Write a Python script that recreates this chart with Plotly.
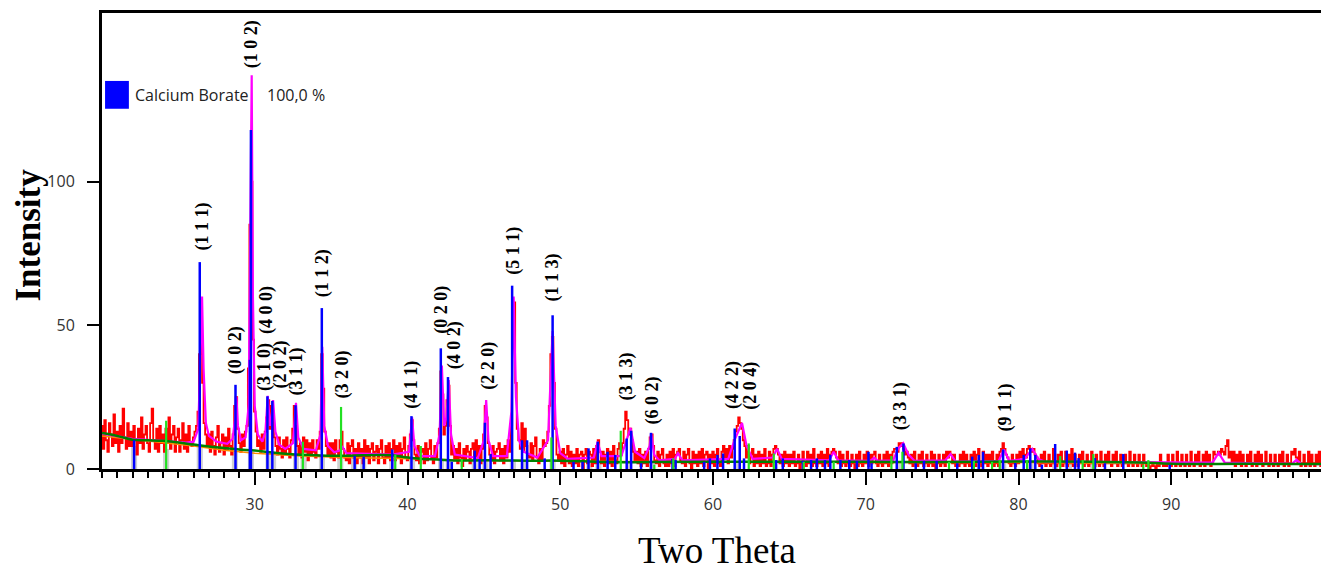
import plotly.graph_objects as go

# ---------------- data ----------------
# observed intensity, step 0.1 deg from 20.0
obs_y = [
    15, 7, 17, 10, 6, 16, 12, 8, 19, 9,
    13, 6, 15, 9, 21, 11, 7, 16, 8, 13,
    8, 15, 10, 5, 14, 9, 18, 7, 12, 15,
    9, 6, 16, 21, 10, 7, 14, 6, 15, 9,
    12, 6, 14, 9, 18, 7, 12, 15, 6, 11,
    14, 6, 10, 16, 7, 12, 6, 15, 9, 8,
    11, 13, 15, 20, 40, 58, 30, 16, 12, 8,
    12, 6, 13, 8, 5, 11, 15, 6, 9, 12,
    5, 11, 7, 14, 8, 5, 12, 22, 25, 14,
    9, 6, 12, 8, 13, 15, 35, 85, 100, 45,
    20, 13, 8, 10, 6, 12, 7, 13, 18, 24,
    14, 22, 20, 11, 8, 5, 11, 7, 4, 10,
    5, 11, 7, 4, 10, 14, 22, 15, 8, 5,
    9, 4, 11, 6, 10, 3, 9, 5, 10, 6,
    4, 10, 7, 13, 40, 28, 13, 8, 5, 9,
    4, 9, 3, 10, 6, 4, 10, 13, 7, 4,
    3, 9, 2, 8, 10, 4, 7, 2, 9, 4,
    7, 2, 10, 4, 8, 2, 7, 9, 3, 6,
    8, 2, 7, 10, 4, 2, 8, 4, 9, 3,
    7, 10, 3, 8, 4, 9, 2, 7, 11, 4,
    3, 8, 12, 17, 10, 5, 3, 8, 2, 6,
    7, 2, 9, 3, 7, 10, 4, 2, 8, 4,
    9, 14, 34, 26, 12, 15, 24, 29, 15, 5,
    8, 3, 7, 2, 9, 4, 1, 7, 3, 8,
    6, 2, 7, 9, 3, 10, 4, 8, 2, 7,
    12, 22, 18, 9, 5, 3, 8, 2, 6, 7,
    9, 3, 7, 2, 8, 4, 10, 6, 15, 50,
    58, 30, 14, 10, 7, 16, 6, 14, 8, 5,
    4, 9, 3, 8, 11, 4, 2, 7, 3, 10,
    8, 9, 13, 22, 40, 46, 30, 14, 5, 3,
    6, 2, 7, 1, 5, 8, 2, 6, 1, 5,
    2, 7, 1, 5, 6, 0, 5, 7, 2, 6,
    5, 1, 7, 2, 8, 10, 6, 2, 6, 1,
    5, 7, 2, 6, 1, 8, 3, 2, 7, 9,
    5, 9, 14, 20, 17, 12, 14, 10, 6, 3,
    6, 2, 7, 1, 5, 2, 6, 1, 7, 11,
    12, 8, 3, 2, 6, 1, 5, 7, 2, 1,
    5, 1, 6, 2, 7, 1, 5, 6, 7, 3,
    2, 6, 1, 5, 7, 2, 0, 6, 2, 5,
    1, 6, 2, 7, 1, 5, 6, 0, 5, 2,
    6, 1, 5, 7, 2, 1, 6, 8, 4, 7,
    2, 8, 4, 7, 10, 13, 15, 18, 16, 14,
    10, 8, 4, 8, 2, 5, 7, 1, 5, 2,
    6, 1, 5, 2, 7, 1, 2, 6, 1, 5,
    7, 8, 7, 5, 2, 5, 1, 6, 2, 5,
    1, 5, 2, 6, 1, 2, 5, 0, 2, 6,
    2, 1, 6, 2, 5, 1, 7, 2, 1, 5,
    2, 6, 1, 5, 2, 7, 1, 5, 6, 7,
    6, 4, 2, 6, 1, 5, 2, 1, 6, 2,
    1, 5, 2, 0, 5, 1, 6, 2, 1, 5,
    2, 6, 1, 5, 2, 5, 6, 2, 1, 5,
    2, 1, 5, 2, 6, 1, 5, 2, 6, 7,
    7, 6, 9, 8, 9, 7, 5, 6, 4, 2,
    5, 1, 6, 2, 1, 5, 2, 6, 1, 2,
    5, 1, 2, 6, 1, 5, 0, 2, 5, 1,
    2, 5, 1, 6, 4, 6, 5, 2, 5, 1,
    2, 1, 5, 2, 6, 1, 5, 2, 1, 5,
    2, 6, 1, 5, 7, 2, 1, 6, 2, 5,
    1, 5, 2, 6, 1, 2, 5, 1, 6, 7,
    9, 7, 5, 4, 2, 1, 5, 2, 1, 5,
    2, 6, 4, 7, 5, 4, 7, 8, 7, 6,
    7, 5, 4, 2, 1, 5, 2, 6, 1, 2,
    5, 1, 2, 7, 2, 1, 5, 2, 6, 1,
    2, 6, 1, 5, 2, 7, 1, 5, 2, 1,
    5, 2, 6, 1, 2, 5, 1, 2, 6, 2,
    1, 5, 2, 1, 6, 2, 1, 5, 2, 6,
    2, 1, 5, 2, 6, 1, 2, 5, 1, 2,
    5, 2, 1, 6, 2, 1, 5, 2, 1, 5,
    2, 1, 5, 2, 1, 2, 0, 1, 2, 1,
    0, 2, 1, 5, 2, 1, 2, 1, 5, 2,
    1, 5, 2, 1, 6, 2, 1, 5, 2, 1,
    5, 2, 1, 6, 2, 1, 5, 2, 6, 1,
    2, 5, 1, 6, 2, 5, 1, 2, 6, 5,
    5, 6, 5, 7, 6, 5, 8, 10, 4, 6,
    2, 6, 1, 5, 2, 6, 1, 5, 2, 1,
    5, 2, 6, 1, 2, 5, 1, 6, 2, 5,
    1, 2, 6, 2, 1, 5, 2, 1, 5, 2,
    1, 5, 2, 6, 1, 2, 5, 1, 2, 6,
    5, 7, 4, 2, 6, 1, 2, 5, 1, 2,
    6, 1, 5, 2, 1, 5, 2, 6, 1, 5,
    3,
]
obs_start = 20.0
obs_step = 0.1

# calculated profile (read points)
calc_x = [20, 22, 24, 25.5, 26.0, 26.3, 26.45, 26.55, 26.65, 26.8, 27.0, 27.5, 28.2, 28.55,
          28.7, 28.8, 28.9, 29.1, 29.4, 29.6, 29.72, 29.8, 29.88, 30.0, 30.2, 30.5, 30.7,
          30.85, 31.0, 31.1, 31.2, 31.35, 31.6, 32.0, 32.5, 32.7, 32.85, 33.2, 34.0, 34.3,
          34.42, 34.55, 34.8, 35.2, 35.6, 35.7, 36.0, 39.0, 40.1, 40.3, 40.45, 40.8, 41.8,
          42.1, 42.25, 42.4, 42.55, 42.7, 42.85, 43.1, 44.6, 45.0, 45.15, 45.3, 45.6, 46.5,
          46.8, 46.95, 47.1, 47.3, 47.6, 48.5, 49.2, 49.5, 49.7, 50.0, 50.5, 52.2, 52.45,
          52.7, 54.0, 54.4, 54.6, 54.9, 55.5, 55.85, 55.95, 56.15, 56.5, 57.5, 57.7, 58.0,
          61.0, 61.4, 61.7, 61.9, 62.2, 62.6, 63.9, 64.2, 64.5, 67.6, 67.9, 68.2, 70.3,
          70.55, 70.8, 71.8, 72.1, 72.45, 72.8, 73.2, 75.2, 75.55, 75.9, 78.7, 79.05, 79.4,
          80.4, 80.9, 81.3, 81.7, 92.7, 93.1, 93.5, 97.9, 98.2, 98.5, 100]
calc_y = [12.3, 10.5, 9.8, 9.2, 9.5, 14, 40, 60, 35, 16, 11.5, 9.5, 8.8, 10.5,
          17, 25, 15, 10, 11, 22, 90, 137, 60, 22, 12, 9.5, 13,
          25.5, 15, 18, 24, 13, 8.5, 7, 9, 23, 11, 7, 6.5, 12,
          42.5, 15, 8, 5.8, 6.5, 8, 5.5, 5.0, 6, 18, 8, 4.5, 4.5,
          12, 36, 15, 18, 31, 12, 5, 3.8, 10, 24, 10, 4.5, 4.5,
          20, 60, 25, 10, 6, 4, 10, 48, 15, 5.5, 3.5, 4, 9.5,
          4.5, 4.5, 11, 14.3, 6, 3.8, 8, 12.5, 5, 3, 3.5, 5.5, 3,
          3.5, 10, 14, 16, 8, 3.5, 4, 7, 3.5, 3, 6, 3, 2.8,
          3.9, 2.8, 3, 7, 9, 5, 2.8, 3, 5.2, 2.6, 2.8, 6.8, 2.8,
          3.5, 7, 3.5, 2.6, 2.2, 5.6, 2.2, 1.8, 3.2, 1.8, 1.7]

# background (dark green) and second background (orange)
bg_x = [20, 21, 22, 23, 24, 25, 26, 27, 28, 29, 30, 31, 32, 33, 34, 35, 36, 37, 38, 39,
        40, 41, 42, 43, 44, 46, 48, 50, 53, 56, 60, 65, 70, 75, 80, 85, 88, 90, 95, 100]
bg_y = [12.5, 11.5, 10.2, 10.0, 9.8, 9.2, 8.5, 7.8, 7.3, 6.8, 6.4, 5.8, 5.3, 5.0, 4.8,
        4.6, 4.6, 4.8, 4.9, 4.8, 4.0, 3.5, 3.3, 3.0, 3.0, 3.0, 2.9, 2.9, 2.4, 2.4, 2.5,
        2.5, 2.5, 2.4, 2.6, 2.5, 2.3, 1.8, 1.8, 1.7]
bg2_x = [20, 24, 26, 28, 30, 33, 36, 40, 45, 50, 60, 70, 80, 90, 100]
bg2_y = [11.5, 9.2, 8.0, 6.5, 5.5, 4.5, 4.0, 3.6, 3.0, 2.7, 2.4, 2.3, 2.3, 1.8, 1.7]

# reflection sticks (blue)
blue_pos = [22.1, 26.4, 28.74, 29.68, 29.75, 30.83, 31.15, 32.67, 34.39, 36.54, 37.13, 39.0,
            40.26, 42.18, 42.65, 42.9, 44.4, 44.72, 45.07, 45.44, 46.85, 47.5, 47.83, 48.98,
            49.5, 50.87, 51.46, 51.85, 52.46, 53.1, 53.6, 54.35, 54.64, 55.29, 55.94, 57.35,
            57.55, 59.42, 59.8, 60.29, 60.66, 61.42, 61.75, 62.03, 64.13, 64.57, 65.88, 66.42,
            66.8, 67.33, 67.68, 68.34, 68.92, 69.42, 70.18, 70.38, 72.03, 72.47, 73.27, 73.81,
            74.64, 75.99, 76.97, 77.4, 77.68, 78.99, 79.79, 80.34, 80.77, 81.1, 81.53, 82.4,
            83.16, 83.7, 83.93, 85.0, 85.66, 86.86, 89.9]
blue_h = [10, 72, 29.3, 38, 118, 25.3, 23.7, 22.2, 56, 4.5, 4.2, 6.8,
          18.4, 42, 32, 2.5, 6.4, 3.5, 16.1, 5.2, 63.8, 10, 10, 3.7,
          53.5, 2.5, 2.5, 7.2, 9.5, 6, 4.9, 10.6, 13.3, 2, 12.6, 3.5,
          3.1, 2.5, 3.7, 4.9, 5.4, 14.1, 11.5, 3.7, 3.1, 3.7, 2.8, 3.1,
          3.7, 3.1, 4.9, 3.1, 3.1, 2.8, 6, 2, 7.7, 8.9, 2, 2.8,
          2.8, 2, 4.3, 4.9, 6, 6.8, 2.1, 4.9, 7.2, 4.9, 1.5, 8.7,
          6.4, 5.7, 3.8, 3.8, 2, 5.2, 1.5]

# reflection sticks (green)
green_pos = [24.2, 33.15, 35.65, 39.2, 40.87, 43.55, 49.42, 53.96, 56.16, 57.4, 62.34, 63.98,
             65.94, 67.9, 71.68, 72.4, 75.45, 77.08, 78.27, 78.77, 80.56, 82.73, 84.2, 84.9,
             88.17, 88.5]
green_h = [16.8, 9.5, 21.6, 5.0, 8, 3.5, 11, 13.3, 1.5, 3.7, 8.9, 5.4,
           2.5, 2.5, 4.5, 6, 2.5, 2.8, 2.5, 3.1, 3.1, 4.5, 3.1, 5.2,
           1.5, 3.1]

# grey bands
grey_pos = [22.1, 24.2, 26.4, 28.7, 29.75, 30.9, 31.2, 32.7, 33.2, 34.4, 35.6, 36.5, 37.1,
            39.0, 40.3, 42.2, 42.7, 44.4, 45.1, 46.9, 47.6, 49.5, 51.9, 52.5, 54.5, 56.0,
            61.6, 72.3, 77.5, 79.0, 80.8, 82.4, 83.3, 84.9]
grey_h = [8, 7, 8, 6, 6, 5.5, 5.5, 5, 4.5, 4.5, 4, 4, 4,
          4, 3.5, 3, 3, 2.8, 2.8, 2.8, 2.6, 2.6, 2.3, 2.3, 2.2, 2.2,
          2.2, 2, 2, 2, 2, 2, 2, 2]

# Miller index labels
hkl_text = ["(1 1 1)", "(1 0 2)", "(0 0 2)", "(3 1 0)", "(4 0 0)", "(2 0 2)", "(3 1 1)",
            "(1 1 2)", "(3 2 0)", "(4 1 1)", "(0 2 0)", "(4 0 2)", "(2 2 0)", "(5 1 1)",
            "(1 1 3)", "(3 1 3)", "(6 0 2)", "(4 2 2)", "(2 0 4)", "(3 3 1)", "(9 1 1)"]
hkl_x = [26.61, 29.78, 28.70, 30.65, 30.78, 31.68, 32.72, 34.42, 35.76, 40.25, 42.23, 43.08,
         45.33, 46.96, 49.50, 54.33, 56.03, 61.32, 62.49, 72.27, 79.12]
hkl_y = [84.4, 148, 41.3, 35.4, 55.2, 36.5, 34.0, 68.2, 32.8, 29.4, 55.3, 42.9,
         35.9, 75.9, 66.5, 32.3, 24.0, 29.3, 29.0, 22.0, 21.4]

x_ticks = [30, 40, 50, 60, 70, 80, 90]
y_ticks = [0, 50, 100]

# ---------------- figure ----------------
obs_x = [round(obs_start + obs_step * i, 2) for i in range(len(obs_y))]


def sticks(pos, h):
    xs, ys = [], []
    for p, v in zip(pos, h):
        xs += [p, p, None]
        ys += [0, v, None]
    return xs, ys


fig = go.Figure()
fig.add_trace(go.Bar(x=grey_pos, y=grey_h, width=0.4, marker=dict(color="#cfcfcf", line_width=0),
                     showlegend=False, hoverinfo="skip"))
fig.add_trace(go.Scatter(x=obs_x, y=obs_y, mode="lines", line=dict(color="#ff0000", width=1.8, shape="hvh"),
                         showlegend=False))
fig.add_trace(go.Scatter(x=bg2_x, y=bg2_y, mode="lines", line=dict(color="#ff8c00", width=1.5),
                         showlegend=False))
fig.add_trace(go.Scatter(x=calc_x, y=calc_y, mode="lines", line=dict(color="#ff00ff", width=2.2),
                         showlegend=False))
fig.add_trace(go.Scatter(x=bg_x, y=bg_y, mode="lines", line=dict(color="#008000", width=2.5, shape="spline"),
                         showlegend=False))
bx, by = sticks(blue_pos, blue_h)
fig.add_trace(go.Scatter(x=bx, y=by, mode="lines", line=dict(color="#0000ff", width=2.5),
                         showlegend=False))
gx, gy = sticks(green_pos, green_h)
fig.add_trace(go.Scatter(x=gx, y=gy, mode="lines", line=dict(color="#22e022", width=2.2),
                         showlegend=False))

for t, xv, yv in zip(hkl_text, hkl_x, hkl_y):
    fig.add_annotation(x=xv, y=yv, text=t, showarrow=False, textangle=-90,
                       font=dict(family="Liberation Serif", size=18, color="black", weight="bold"),
                       xanchor="center", yanchor="middle")

# legend box
fig.add_shape(type="rect", xref="paper", yref="paper", x0=0.0025, x1=0.022, y0=0.790, y1=0.851,
              fillcolor="#0000ff", line=dict(width=0))
fig.add_annotation(xref="paper", yref="paper", x=0.0253, y=0.8206, text="Calcium Borate",
                   showarrow=False, xanchor="left", yanchor="middle",
                   font=dict(family="Open Sans", size=16, color="#222222"))
fig.add_annotation(xref="paper", yref="paper", x=0.1331, y=0.8206, text="100,0 %",
                   showarrow=False, xanchor="left", yanchor="middle",
                   font=dict(family="Open Sans", size=16, color="#222222"))

# axis titles
fig.add_annotation(xref="paper", yref="paper", x=0.503, y=-0.178, text="Two Theta",
                   showarrow=False, xanchor="center", yanchor="middle",
                   font=dict(family="Liberation Serif", size=37, color="black"))
fig.add_annotation(xref="paper", yref="paper", x=-0.0605, y=0.512, text="Intensity",
                   showarrow=False, xanchor="center", yanchor="middle", textangle=-90,
                   font=dict(family="Liberation Serif", size=35, color="black", weight="bold"))

# page body has an 8px margin: size/margins compensate so the plot area sits at the reference spot
fig.update_layout(
    width=1321, height=564,
    margin=dict(l=94, r=2, t=4, b=103),
    paper_bgcolor="white", plot_bgcolor="white",
    barmode="overlay",
    showlegend=False,
    xaxis=dict(range=[20, 100], showgrid=False, zeroline=False,
               showline=True, linewidth=3, linecolor="black", mirror=True,
               ticks="outside", tickmode="array", tickvals=x_ticks,
               ticklen=13, tickwidth=2, tickcolor="black", ticklabelstandoff=6,
               tickfont=dict(family="Open Sans", size=16, color="#333333"),
               minor=dict(tickmode="linear", tick0=0, dtick=1, ticks="outside",
                          ticklen=6, tickwidth=1.5, tickcolor="black", showgrid=False)),
    yaxis=dict(range=[0, 158.7], showgrid=False, zeroline=False,
               showline=True, linewidth=3, linecolor="black", mirror=True,
               ticks="outside", tickmode="array", tickvals=y_ticks,
               ticklen=12, tickwidth=2, tickcolor="black", ticklabelstandoff=9,
               tickfont=dict(family="Open Sans", size=16, color="#333333")),
)

fig.write_html("out.html")
